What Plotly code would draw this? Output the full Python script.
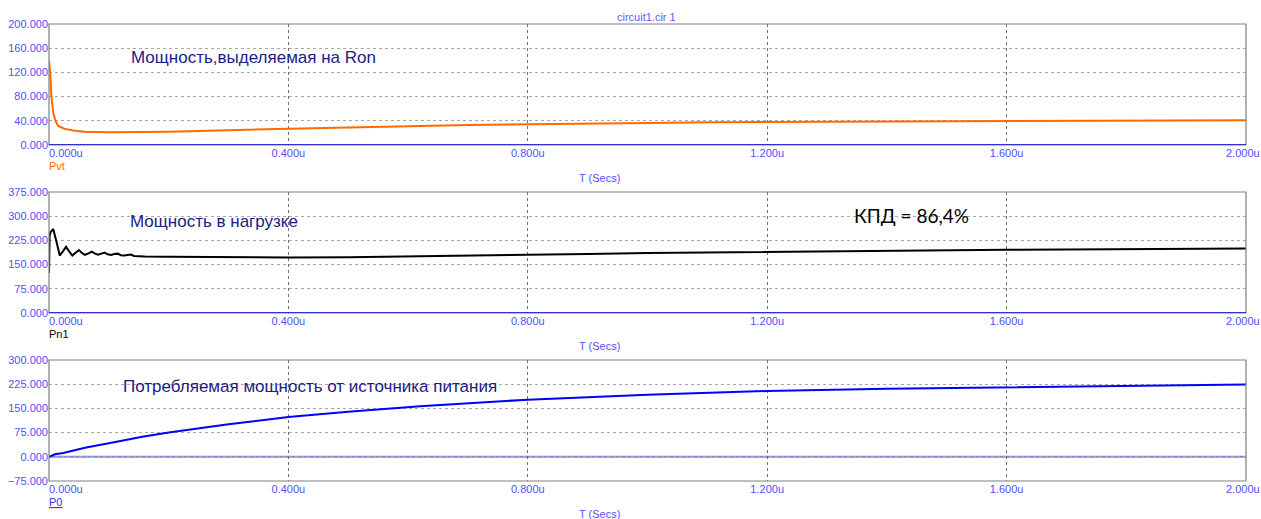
import plotly.graph_objects as go

W, H = 1261, 519

# ---------------- data (time in microseconds) ----------------
t_pvt = [0, 0.002, 0.004, 0.007, 0.010, 0.015, 0.025, 0.040, 0.060, 0.100, 0.150, 0.200,
         0.300, 0.400, 0.500, 0.600, 0.700, 0.800, 0.900, 1.000, 1.100, 1.200, 1.400,
         1.600, 1.800, 2.000]
pvt = [140, 120, 80, 55, 42, 32, 27, 24, 22, 21, 21.5, 22,
       24.5, 27, 29, 31, 33, 34.5, 35.5, 36.5, 37.5, 38, 39,
       40, 40.5, 41]

t_pn1 = [0, 0.001, 0.003, 0.007, 0.012, 0.018, 0.0235, 0.0285, 0.034, 0.039, 0.0445,
         0.050, 0.055, 0.060, 0.066, 0.0715, 0.077, 0.082, 0.0875, 0.093, 0.098, 0.104,
         0.109, 0.115, 0.120, 0.126, 0.131, 0.137, 0.142, 0.148, 0.160, 0.200, 0.250,
         0.300, 0.400, 0.500, 0.600, 0.700, 0.800, 0.900, 1.000, 1.100, 1.200, 1.300,
         1.400, 1.500, 1.600, 1.700, 1.800, 1.900, 2.000]
pn1 = [124, 240, 252, 260, 225, 178, 192, 205, 190, 178, 187,
       195, 186, 180, 185, 190, 184, 181, 184, 187, 182, 180,
       183, 184, 179, 178, 180, 181, 177, 176, 175, 174, 173,
       172, 172, 173, 175, 177, 180, 183, 186, 188, 190, 192,
       194, 195, 196, 197, 198, 199, 200]

t_p0 = [0, 0.005, 0.010, 0.024, 0.060, 0.100, 0.156, 0.200, 0.300, 0.400, 0.500, 0.620,
        0.800, 1.000, 1.200, 1.400, 1.600, 1.800, 2.000]
p0 = [0, 5, 8, 12, 28, 42, 62, 75, 101, 123, 140, 157,
      177, 192, 204, 211, 216, 220, 224]

x_tickvals = [0, 0.4, 0.8, 1.2, 1.6, 2.0]
x_ticktext = ["", "0.400u", "0.800u", "1.200u", "1.600u", ""]
x_first_label = "0.000u"
x_last_label = "2.000u"
y1_ticks = [0, 40, 80, 120, 160, 200]
y2_ticks = [0, 75, 150, 225, 300, 375]
y3_ticks = [-75, 0, 75, 150, 225, 300]

series_names = ["Pvt", "Pn1", "P0"]
panel_titles = ["Мощность,выделяемая на Ron", "Мощность в нагрузке",
                "Потребляемая мощность от источника питания"]
kpd_text = "КПД = 86,4%"
chart_title = "circuit1.cir 1"
x_title = "T (Secs)"

# ---------------- layout helpers ----------------
def px(x):
    return x / W

def py(y):
    return 1 - y / H

XL, XR = 49, 1246
panels = [(24, 145), (192, 313), (360, 481)]
TICKC = "#5050ff"
FONT = "Liberation Sans, Arial, sans-serif"

fig = go.Figure()
colors = ["#ff6a00", "#000000", "#0000ff"]
xs = [t_pvt, t_pn1, t_p0]
ys = [pvt, pn1, p0]
for i in range(3):
    fig.add_trace(go.Scatter(x=xs[i], y=ys[i], mode="lines",
                             line=dict(color=colors[i], width=2),
                             xaxis="x" if i == 0 else f"x{i+1}",
                             yaxis="y" if i == 0 else f"y{i+1}",
                             showlegend=False, hoverinfo="skip"))

ranges = [[0, 200], [0, 375], [-75, 300]]
yticks = [y1_ticks, y2_ticks, y3_ticks]
layout = dict(width=W, height=H, margin=dict(l=0, r=0, t=0, b=0, autoexpand=False),
              paper_bgcolor="white", plot_bgcolor="white",
              font=dict(family=FONT, size=11, color=TICKC))
for i, (top, bot) in enumerate(panels):
    sfx = "" if i == 0 else str(i + 1)
    layout["xaxis" + sfx] = dict(
        domain=[px(XL), px(XR)], range=[0, 2], anchor="y" + sfx,
        tickvals=x_tickvals, ticktext=x_ticktext, ticks="", automargin=False,
        ticklabeloverflow="allow",
        showgrid=True, gridcolor="#707070", griddash="3px,3px", gridwidth=1,
        zeroline=False, showline=False,
        tickfont=dict(family=FONT, size=11, color=TICKC))
    layout["yaxis" + sfx] = dict(
        domain=[py(bot), py(top)], range=ranges[i], anchor="x" + sfx,
        tickvals=yticks[i], tickformat=".3f", ticks="", automargin=False,
        ticklabeloverflow="allow",
        showgrid=True, gridcolor="#a8a8a8", griddash="3px,3px", gridwidth=1,
        zeroline=False, showline=False,
        tickfont=dict(family=FONT, size=11, color=TICKC))
fig.update_layout(**layout)

shapes = []
annotations = []
zero_colors = ["#0000dd", "#0000dd", "#8080ff"]
name_colors = ["#ff6a00", "#000000", "#3030ff"]
for i, (top, bot) in enumerate(panels):
    sfx = "" if i == 0 else str(i + 1)
    # frame
    shapes.append(dict(type="rect", xref=f"x{sfx} domain", yref=f"y{sfx} domain",
                       x0=0, x1=1, y0=0, y1=1, line=dict(color="#808080", width=1.2),
                       fillcolor="rgba(0,0,0,0)", layer="above"))
    # zero line
    shapes.append(dict(type="line", xref=f"x{sfx} domain", yref=f"y{sfx}",
                       x0=0, x1=1, y0=0, y1=0,
                       line=dict(color=zero_colors[i], width=2 if i == 2 else 1.5),
                       layer="below" if i == 2 else "above"))
    # first / last x tick labels
    annotations.append(dict(x=px(XL - 2), y=py(bot + 8), xref="paper", yref="paper",
                            text=x_first_label, showarrow=False, xanchor="left",
                            yanchor="middle", font=dict(family=FONT, size=11, color=TICKC)))
    annotations.append(dict(x=px(W + 1), y=py(bot + 8), xref="paper", yref="paper",
                            text=x_last_label, showarrow=False, xanchor="right",
                            yanchor="middle", font=dict(family=FONT, size=11, color=TICKC)))
    # series name
    nm = series_names[i] if i < 2 else "<u>" + series_names[i] + "</u>"
    annotations.append(dict(x=px(XL - 2), y=py(bot + 21), xref="paper", yref="paper",
                            text=nm, showarrow=False, xanchor="left", yanchor="middle",
                            font=dict(family=FONT, size=11, color=name_colors[i])))
    # T (Secs)
    annotations.append(dict(x=px(599), y=py(bot + 33), xref="paper", yref="paper",
                            text=x_title, showarrow=False, xanchor="center", yanchor="middle",
                            font=dict(family=FONT, size=11, color=TICKC)))

title_pos = [(129, 57), (128, 221), (121, 386)]
for i, (x, y) in enumerate(title_pos):
    annotations.append(dict(x=px(x), y=py(y), xref="paper", yref="paper",
                            text=panel_titles[i], showarrow=False, xanchor="left",
                            yanchor="middle",
                            font=dict(family=FONT, size=17, color="#1c1c82")))

annotations.append(dict(x=px(852), y=py(215), xref="paper", yref="paper",
                        text=kpd_text, showarrow=False, xanchor="left", yanchor="middle",
                        font=dict(family="Lato, sans-serif", size=19, color="#000000")))
annotations.append(dict(x=px(646), y=py(17), xref="paper", yref="paper",
                        text=chart_title, showarrow=False, xanchor="center", yanchor="middle",
                        font=dict(family=FONT, size=11, color="#5a5aff")))

fig.update_layout(shapes=shapes, annotations=annotations)
fig.write_html("out.html", config={"displayModeBar": False},
               post_script="document.body.style.margin='0';document.body.style.overflow='hidden';")
